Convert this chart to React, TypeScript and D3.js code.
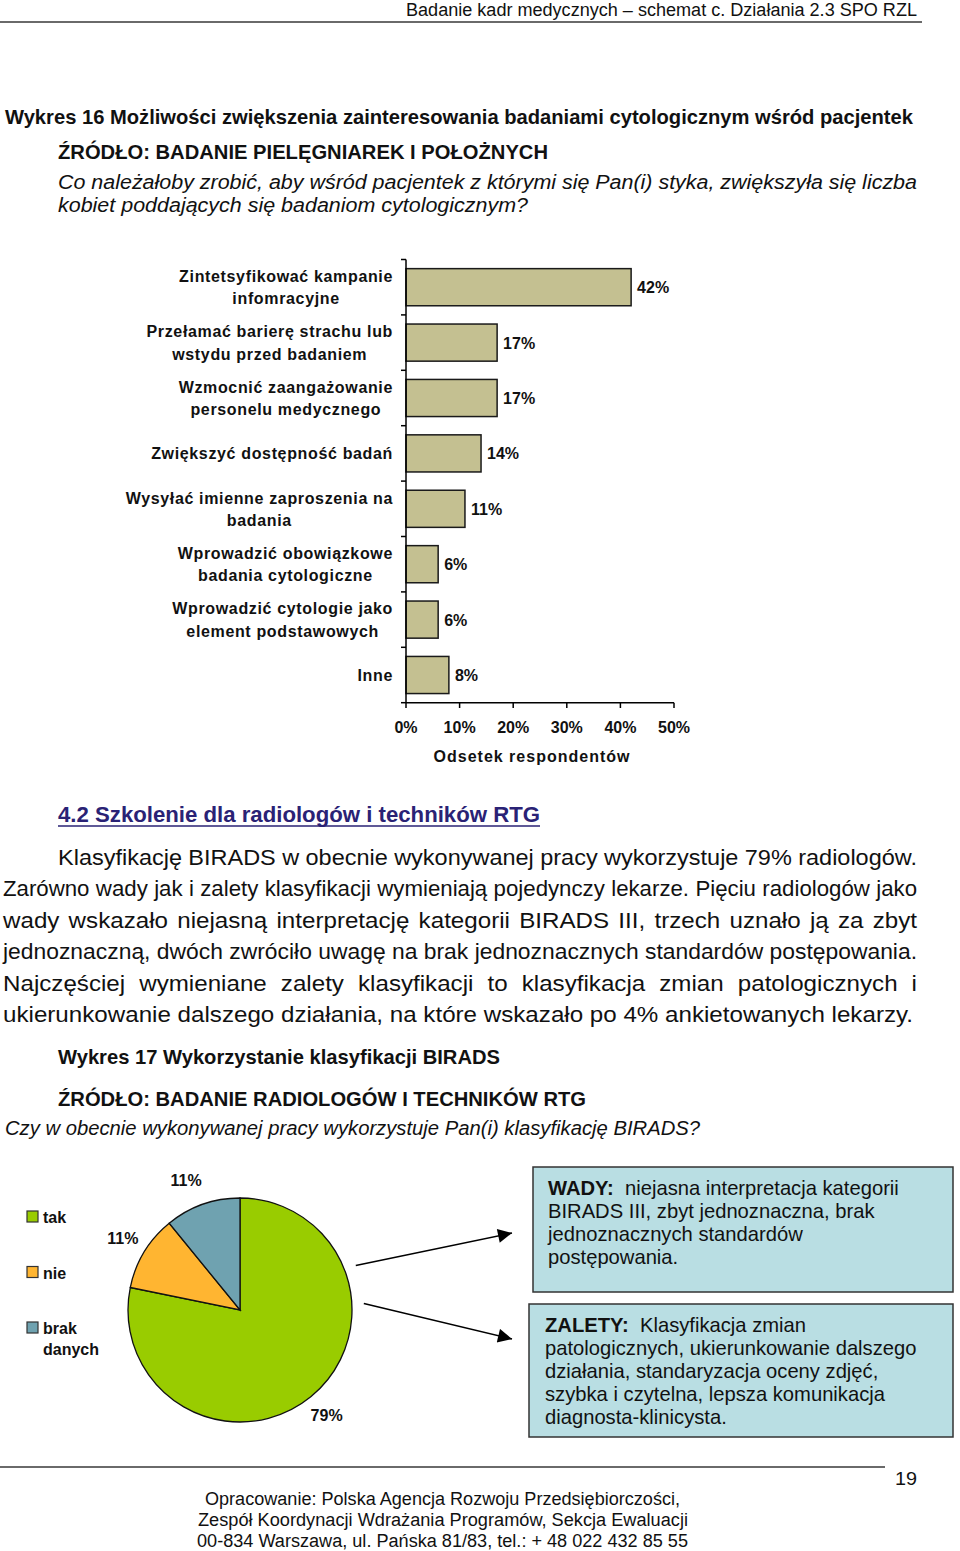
import React from "react";
import * as d3 from "d3";

// ---------- DATA ----------
const barCategories: string[][] = [
  ["Zintetsyfikować kampanie", "infomracyjne"],
  ["Przełamać barierę strachu lub", "wstydu przed badaniem"],
  ["Wzmocnić zaangażowanie", "personelu medycznego"],
  ["Zwiększyć dostępność badań"],
  ["Wysyłać imienne zaproszenia na", "badania"],
  ["Wprowadzić obowiązkowe", "badania cytologiczne"],
  ["Wprowadzić cytologie jako", "element podstawowych"],
  ["Inne"],
];
const barValues = [42, 17, 17, 14, 11, 6, 6, 8];
const barTicks = [0, 10, 20, 30, 40, 50];
const barAxisTitle = "Odsetek respondentów";

const pieCategories = ["tak", "nie", "brak danych"];
const pieValues = [79, 11, 11];
const pieColors = ["#99cc00", "#ffb531", "#6fa2b0"];

const paragraphLines = [
  "Klasyfikację BIRADS w obecnie wykonywanej pracy wykorzystuje 79% radiologów.",
  "Zarówno wady jak i zalety klasyfikacji wymieniają pojedynczy lekarze. Pięciu radiologów jako",
  "wady wskazało niejasną interpretację kategorii BIRADS III, trzech uznało ją za zbyt",
  "jednoznaczną, dwóch zwróciło uwagę na brak jednoznacznych standardów postępowania.",
  "Najczęściej wymieniane zalety klasyfikacji to klasyfikacja zmian patologicznych i",
  "ukierunkowanie dalszego działania, na które wskazało po 4% ankietowanych lekarzy.",
];
const questionLines = [
  "Co należałoby zrobić, aby wśród pacjentek z którymi się Pan(i) styka, zwiększyła się liczba",
  "kobiet poddających się badaniom cytologicznym?",
];
const wadyLines = [
  ["WADY:", " niejasna interpretacja kategorii"],
  ["", "BIRADS III, zbyt jednoznaczna, brak"],
  ["", "jednoznacznych standardów"],
  ["", "postępowania."],
];
const zaletyLines = [
  ["ZALETY:", " Klasyfikacja zmian"],
  ["", "patologicznych, ukierunkowanie dalszego"],
  ["", "działania, standaryzacja oceny zdjęć,"],
  ["", "szybka i czytelna, lepsza komunikacja"],
  ["", "diagnosta-klinicysta."],
];
const footerLines = [
  "Opracowanie: Polska Agencja Rozwoju Przedsiębiorczości,",
  "Zespół Koordynacji Wdrażania Programów, Sekcja Ewaluacji",
  "00-834 Warszawa, ul. Pańska 81/83, tel.: + 48 022 432 85 55",
];

// ---------- helpers ----------
const NARROW = "'Liberation Sans Narrow', 'Liberation Sans', Arial, sans-serif";
const SANS = "'Liberation Sans', Arial, sans-serif";

const ctx = document.createElement("canvas").getContext("2d")!;
function measure(text: string, font: string) {
  ctx.font = font;
  return ctx.measureText(text).width;
}
function fontStr(size: number, weight = "normal", style = "normal", family = NARROW) {
  return `${style} ${weight} ${size}px ${family}`;
}

function FitText(props: {
  x1: number; x2: number; y: number; size: number; weight?: string; italic?: boolean; fill?: string; text: string;
}) {
  const { x1, x2, y, size, weight = "normal", italic = false, fill = "#111", text } = props;
  return (
    <text x={x1} y={y} fontFamily={NARROW} fontSize={size} fontWeight={weight}
      fontStyle={italic ? "italic" : "normal"} fill={fill}
      textLength={x2 - x1} lengthAdjust="spacingAndGlyphs">{text}</text>
  );
}

function Justified(props: {
  text: string; x1: number; x2: number; y: number; size: number; k: number; weight?: string; italic?: boolean;
}) {
  const { text, x1, x2, y, size, k, weight = "normal", italic = false } = props;
  const font = fontStr(size, weight, italic ? "italic" : "normal");
  const words = text.split(" ");
  const raw = words.map((w) => measure(w, font));
  const minGap = measure(" ", font) * k * 0.95;
  let kk = k;
  const W = x2 - x1;
  if (d3.sum(raw) * k + minGap * (words.length - 1) > W) {
    kk = (W - minGap * (words.length - 1)) / d3.sum(raw);
  }
  const widths = raw.map((w) => w * kk);
  const total = d3.sum(widths);
  const gap = words.length > 1 ? (W - total) / (words.length - 1) : 0;
  let cx = x1;
  return (
    <g>
      {words.map((w, i) => {
        const el = (
          <text key={i} x={cx} y={y} fontFamily={NARROW} fontSize={size} fontWeight={weight}
            fontStyle={italic ? "italic" : "normal"} fill="#111"
            textLength={widths[i]} lengthAdjust="spacingAndGlyphs">{w}</text>
        );
        cx += widths[i] + gap;
        return el;
      })}
    </g>
  );
}

export default function App() {
  // ---------- bar chart ----------
  const x = d3.scaleLinear().domain([0, 50]).range([406, 674]);
  const y = d3.scaleBand<number>().domain(barValues.map((_, i) => i))
    .range([259.5, 702.7]).paddingInner(0.33).paddingOuter(0.165);
  const step = y.step();
  const boundaries = d3.range(barValues.length + 1).map((i) => y.range()[0] + i * step);
  const FS = 16;
  const labelFont = fontStr(FS, "bold", "normal", SANS);
  const LS = 0.65;
  const labelRight = 393;

  // ---------- pie ----------
  const cx = 240, cy = 1310, r = 112;
  const pie = d3.pie<number>().sort(null).value((d) => d)(pieValues);
  const arc = d3.arc<d3.PieArcDatum<number>>().innerRadius(0).outerRadius(r);
  const labelArc = d3.arc<d3.PieArcDatum<number>>().innerRadius(137).outerRadius(137);

  // paragraph condense factors
  const kPara = (913 - 3) / measure(paragraphLines[5], fontStr(22.5));
  const kQ = (528 - 58) / measure(questionLines[1], fontStr(20, "normal", "italic"));

  const fromCenter = (deg: number, rr: number) => [cx + rr * Math.cos((deg * Math.PI) / 180), cy + rr * Math.sin((deg * Math.PI) / 180)];
  const a1 = fromCenter(-21, 124);
  const a2 = fromCenter(-3, 124);

  return (
    <svg width={960} height={1551} style={{ position: "absolute", left: 0, top: 0, background: "#fff" }}
      xmlns="http://www.w3.org/2000/svg">
      <defs>
        <marker id="arrowhead" viewBox="0 0 10 10" refX="10" refY="5" markerWidth="16" markerHeight="14"
          markerUnits="userSpaceOnUse" orient="auto">
          <path d="M0,0 L10,5 L0,10 z" fill="#000" />
        </marker>
      </defs>
      <rect x={0} y={0} width={960} height={1551} fill="#fff" />

      {/* header */}
      <FitText x1={406} x2={917} y={16} size={18} text="Badanie kadr medycznych – schemat c. Działania 2.3 SPO RZL" />
      <line x1={0} x2={922} y1={22} y2={22} stroke="#6a6a6a" strokeWidth={2} />

      {/* titles */}
      <FitText x1={5} x2={913} y={124} size={20.5} weight="bold"
        text="Wykres 16 Możliwości zwiększenia zainteresowania badaniami cytologicznym wśród pacjentek" />
      <FitText x1={58} x2={548} y={159} size={20.5} weight="bold" text="ŹRÓDŁO: BADANIE PIELĘGNIAREK I POŁOŻNYCH" />
      <Justified text={questionLines[0]} x1={58} x2={917} y={189} size={20} k={kQ} italic />
      <FitText x1={58} x2={528} y={212} size={20} italic text={questionLines[1]} />

      {/* bar chart */}
      <g>
        {barValues.map((v, i) => (
          <rect key={i} x={x(0)} y={y(i)} width={x(v) - x(0)} height={y.bandwidth()}
            fill="#c4c091" stroke="#1a1a1a" strokeWidth={1.5} />
        ))}
        <line x1={x(0)} x2={x(0)} y1={boundaries[0]} y2={boundaries[boundaries.length - 1]} stroke="#000" strokeWidth={1.5} />
        {boundaries.map((b, i) => (
          <line key={i} x1={x(0) - 5} x2={x(0)} y1={b} y2={b} stroke="#000" strokeWidth={1.5} />
        ))}
        <line x1={x(0)} x2={x(50)} y1={boundaries[boundaries.length - 1]} y2={boundaries[boundaries.length - 1]} stroke="#000" strokeWidth={1.5} />
        {barTicks.map((t) => (
          <g key={t}>
            <line x1={x(t)} x2={x(t)} y1={702.7} y2={708} stroke="#000" strokeWidth={1.5} />
            <text x={x(t)} y={733} textAnchor="middle" fontFamily={SANS} fontWeight="bold" fontSize={FS} fill="#111">{t}%</text>
          </g>
        ))}
        <text x={532} y={762} textAnchor="middle" fontFamily={SANS} fontWeight="bold" fontSize={FS}
          letterSpacing={1} fill="#111">{barAxisTitle}</text>
        {barValues.map((v, i) => (
          <text key={i} x={x(v) + 6} y={y(i)! + y.bandwidth() / 2 + 6} fontFamily={SANS} fontWeight="bold"
            fontSize={FS} fill="#111">{v}%</text>
        ))}
        {barCategories.map((lines, i) => {
          const widths = lines.map((l) => measure(l, labelFont) + LS * l.length);
          const bw = d3.max(widths)!;
          const center = labelRight - bw / 2;
          const mid = y(i)! + y.bandwidth() / 2;
          const lh = 22.5;
          const y0 = mid - ((lines.length - 1) * lh) / 2 + 6;
          return (
            <g key={i}>
              {lines.map((l, j) => (
                <text key={j} x={center} y={y0 + j * lh} textAnchor="middle" fontFamily={SANS} fontWeight="bold"
                  fontSize={FS} letterSpacing={LS} fill="#111">{l}</text>
              ))}
            </g>
          );
        })}
      </g>

      {/* section */}
      <FitText x1={58} x2={540} y={822} size={22.5} weight="bold" fill="#2a2275" text="4.2 Szkolenie dla radiologów i techników RTG" />
      <line x1={58} x2={540} y1={826} y2={826} stroke="#2a2275" strokeWidth={1.6} />
      {paragraphLines.map((l, i) => {
        const yy = 865 + i * 31.4;
        if (i === 0) return <Justified key={i} text={l} x1={58} x2={917} y={yy} size={22.5} k={kPara} />;
        if (i === paragraphLines.length - 1) return <FitText key={i} x1={3} x2={913} y={yy} size={22.5} text={l} />;
        return <Justified key={i} text={l} x1={3} x2={917} y={yy} size={22.5} k={kPara} />;
      })}

      <FitText x1={58} x2={500} y={1064} size={20.5} weight="bold" text="Wykres 17 Wykorzystanie klasyfikacji BIRADS" />
      <FitText x1={58} x2={586} y={1106} size={20.5} weight="bold" text="ŹRÓDŁO: BADANIE RADIOLOGÓW I TECHNIKÓW RTG" />
      <FitText x1={5} x2={700} y={1135} size={20} italic text="Czy w obecnie wykonywanej pracy wykorzystuje Pan(i) klasyfikację BIRADS?" />

      {/* pie */}
      <g transform={`translate(${cx},${cy})`}>
        {pie.map((p, i) => (
          <path key={i} d={arc(p)!} fill={pieColors[i]} stroke="#111" strokeWidth={1.3} />
        ))}
        {pie.map((p, i) => {
          const [lx, ly] = labelArc.centroid(p);
          return (
            <text key={i} x={lx - (i === 2 ? 8 : 0)} y={ly + 5} textAnchor="middle" fontFamily={SANS} fontWeight="bold"
              fontSize={FS} fill="#111">{pieValues[i]}%</text>
          );
        })}
      </g>
      {pieCategories.map((c, i) => {
        const ly = 1217 + i * 55.5;
        const words = c.split(" ");
        return (
          <g key={c}>
            <rect x={27} y={ly - 6} width={11} height={11} fill={pieColors[i]} stroke="#333" strokeWidth={1.2} />
            {words.map((w, j) => (
              <text key={j} x={43} y={ly + 6 + j * 21} fontFamily={SANS} fontWeight="bold" fontSize={FS} fill="#111">{w}</text>
            ))}
          </g>
        );
      })}

      {/* arrows */}
      <line x1={a1[0]} y1={a1[1]} x2={512} y2={1233} stroke="#000" strokeWidth={1.5} markerEnd="url(#arrowhead)" />
      <line x1={a2[0]} y1={a2[1]} x2={512} y2={1339} stroke="#000" strokeWidth={1.5} markerEnd="url(#arrowhead)" />

      {/* boxes */}
      <rect x={533} y={1167} width={420} height={125} fill="#b9dee3" stroke="#333" strokeWidth={1.5} />
      {wadyLines.map(([b, t], i) => (
        <text key={i} x={548} y={1195 + i * 23} fontFamily={SANS} fontSize={20.2} fill="#111">
          {b && <tspan fontWeight="bold">{b}</tspan>}
          <tspan>{b ? "\u00a0" + t : t}</tspan>
        </text>
      ))}
      <rect x={529} y={1304} width={424} height={133} fill="#b9dee3" stroke="#333" strokeWidth={1.5} />
      {zaletyLines.map(([b, t], i) => (
        <text key={i} x={545} y={1332 + i * 23} fontFamily={SANS} fontSize={20.2} fill="#111">
          {b && <tspan fontWeight="bold">{b}</tspan>}
          <tspan>{b ? "\u00a0" + t : t}</tspan>
        </text>
      ))}

      {/* footer */}
      <line x1={0} x2={885} y1={1467} y2={1467} stroke="#6a6a6a" strokeWidth={2} />
      <FitText x1={895} x2={917} y={1485} size={19} text="19" />
      <FitText x1={205} x2={680} y={1505} size={18} text={footerLines[0]} />
      <FitText x1={198} x2={688} y={1526} size={18} text={footerLines[1]} />
      <FitText x1={197} x2={688} y={1547} size={18} text={footerLines[2]} />
    </svg>
  );
}
